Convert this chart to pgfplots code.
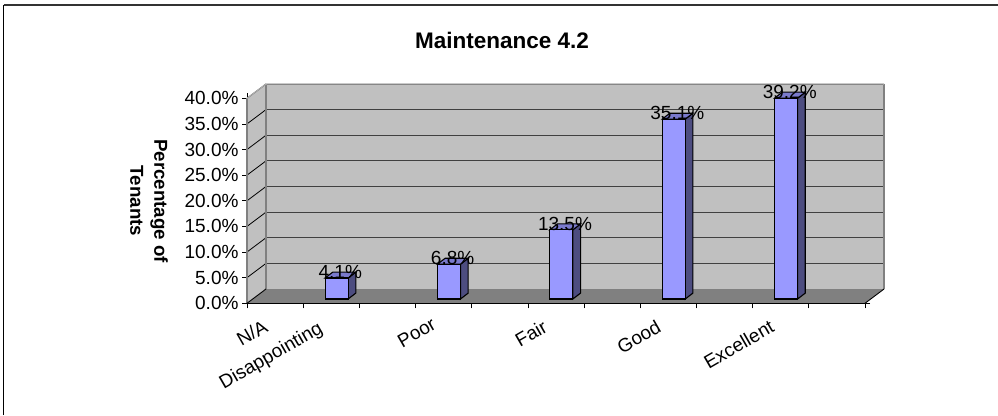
\documentclass[border=0pt]{standalone}
\usepackage{fontspec}
\setmainfont{Liberation Sans}
\usepackage{pgfplots}
\pgfplotsset{compat=1.18}
\definecolor{wallgray}{HTML}{C0C0C0}
\definecolor{floorgray}{HTML}{808080}
\definecolor{barfront}{HTML}{9999FF}
\definecolor{barside}{HTML}{4D4D80}
\definecolor{bartop}{HTML}{7A7ACC}

% one 3D column: #1 = left edge of the front face (category units), #2 = value
\newcommand{\threedbar}[2]{
  \pgfmathsetmacro{\xr}{#1+0.41}
  \pgfmathsetmacro{\xba}{#1+0.137}
  \pgfmathsetmacro{\xbb}{#1+0.547}
  \pgfmathsetmacro{\ytop}{#2+0.84}
  \pgfmathsetmacro{\ybase}{0.84+1.15}
  \pgfmathsetmacro{\ybtop}{#2+0.84+1.15}
  \addplot[draw=black,line width=1.1pt,fill=barside] coordinates {(\xr,0.84) (\xbb,\ybase) (\xbb,\ybtop) (\xr,\ytop)} -- cycle;
  \addplot[draw=black,line width=1.1pt,fill=bartop] coordinates {(#1,\ytop) (\xba,\ybtop) (\xbb,\ybtop) (\xr,\ytop)} -- cycle;
  \addplot[draw=black,line width=1.1pt,fill=barfront] coordinates {(#1,0.84) (\xr,0.84) (\xr,\ytop) (#1,\ytop)} -- cycle;
}

\begin{document}
\begin{tikzpicture}[x=1pt,y=1pt]
\useasboundingbox (0,0) rectangle (998,415);
\draw[line width=1.6pt,color=black] (3.5,0) -- (3.5,410);
\draw[line width=1.6pt,color=black!80] (3.5,410) -- (998,410);

\begin{axis}[
  at={(247pt,111.7pt)},anchor=south west,
  scale only axis,width=618pt,height=205pt,
  xmin=0,xmax=11,ymin=0,ymax=40,
  clip=false,
  axis line style={draw=none},
  ytick={0,5,...,40},
  yticklabel={\pgfmathprintnumber[fixed,fixed zerofill,precision=1,assume math mode=true]{\tick}\%},
  xtick={0,...,11},
  xticklabels={},
  tick align=outside,
  major tick length=5pt,
  tick style={black,line width=0.8pt},
  ticklabel style={font=\fontsize{19}{20}\selectfont},
  every axis y tick label/.append style={inner sep=0pt,xshift=-2pt},
  ylabel={},
]
% walls and floor, the depth offset is 0.338 categories and 2.79 percent
\addplot[draw=none,fill=wallgray] coordinates {(0,0) (0.338,2.79) (0.338,42.79) (0,40)} -- cycle;
\addplot[draw=none,fill=wallgray] coordinates {(0.338,2.79) (11.338,2.79) (11.338,42.79) (0.338,42.79)} -- cycle;
\addplot[draw=none,fill=floorgray] coordinates {(0,0) (11,0) (11.338,2.79) (0.338,2.79)} -- cycle;

% grid lines
\foreach \g in {5,10,...,40}{
  \pgfmathsetmacro{\gb}{\g+2.79}
  \addplot[black,line width=0.8pt] coordinates {(0,\g) (0.338,\gb)};
  \addplot[black!75,line width=0.9pt] coordinates {(0.338,\gb) (11.338,\gb)};
}
\addplot[floorgray,line width=1.2pt] coordinates {(0,0) (0,40)};
\addplot[floorgray,line width=1.2pt] coordinates {(0.338,2.79) (0.338,42.79)};
\addplot[floorgray,line width=1.2pt] coordinates {(11.338,2.79) (11.338,42.79)};
\addplot[wallgray!70!gray,line width=1.2pt] coordinates {(0,40) (0.338,42.79) (11.338,42.79)};
\addplot[black,line width=0.9pt] coordinates {(0,0) (0.338,2.79)};
\addplot[black,line width=0.9pt] coordinates {(11,0) (11.338,2.79)};
\addplot[black,line width=1pt] coordinates {(0,0) (11,0)};

% columns
\threedbar{1.39}{4.1}
\threedbar{3.39}{6.8}
\threedbar{5.39}{13.5}
\threedbar{7.39}{35.1}
\threedbar{9.39}{39.2}

% value labels
\addplot[only marks,mark=none,
  nodes near coords,
  point meta=explicit symbolic,
  every node near coord/.style={anchor=center,font=\fontsize{19}{20}\selectfont,text=black,inner sep=0pt,yshift=-1pt}]
  table[meta=lab] {
x y lab
1.66 6.3 4.1\%
3.66 9.0 6.8\%
5.66 15.7 13.5\%
7.66 37.3 35.1\%
9.66 41.4 39.2\%
};

% category labels, every second tick of the front edge
\addplot[only marks,mark=none,
  nodes near coords,
  point meta=explicit symbolic,
  every node near coord/.style={anchor=north east,rotate=30,font=\fontsize{19}{20}\selectfont,text=black,inner sep=0pt}]
  table[meta=lab] {
x y lab
0.27 -3.0 N/A
1.244 -3.2 Disappointing
3.27 -2.6 Poor
5.246 -3.0 Fair
7.27 -3.0 Good
9.286 -3.0 Excellent
};
\end{axis}

\node[rotate=-90,font=\bfseries\fontsize{18.7}{24}\selectfont,align=center] at (149,214) {Percentage of\\Tenants};
\node[font=\bfseries\fontsize{22.5}{24}\selectfont] at (502,375) {Maintenance 4.2};
\end{tikzpicture}
\end{document}
